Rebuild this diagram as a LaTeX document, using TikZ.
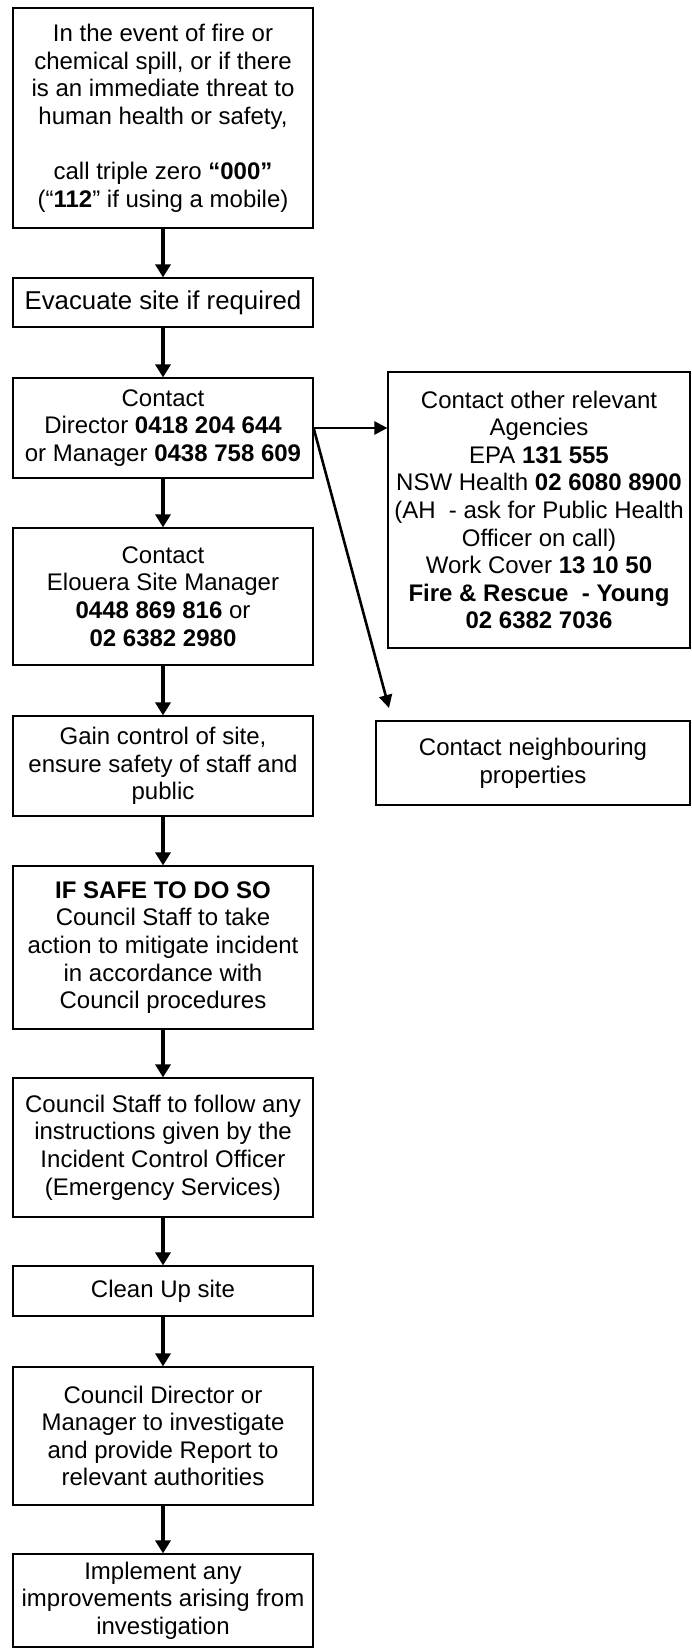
\documentclass[tikz,border=0pt]{standalone}
\usepackage{fontspec}
\setmainfont{Liberation Sans}
\usetikzlibrary{arrows.meta}
\tikzset{
  box/.style={draw=black,line width=0.6pt,align=center,inner sep=0pt,
    font=\fontsize{12}{13.8}\selectfont},
  down/.style={line width=2pt,-{Triangle[length=6.5pt,width=7.5pt]}},
  side/.style={line width=1.3pt,-{Triangle[length=6.5pt,width=6.5pt]}}
}
\begin{document}
\begin{tikzpicture}[x=0.5pt,y=-0.5pt]
\useasboundingbox (0,0) rectangle (691,1648);
\node[box,minimum width=150pt,minimum height=110pt](fire) at (163,118)
  {In the event of fire or\\chemical spill, or if there\\is an immediate threat to\\human health or safety,\\[13.8pt]
   call triple zero \textbf{“000”}\\(“\textbf{112}” if using a mobile)};
\node[box,minimum width=150pt,minimum height=24.5pt,font=\fontsize{12.9}{14.8}\selectfont](evac) at (163,302.5){Evacuate site if required};
\node[box,minimum width=150pt,minimum height=50pt](contact) at (163,428)
  {Contact\\Director \textbf{0418 204 644}\\or Manager \textbf{0438 758 609}};
\node[box,minimum width=150pt,minimum height=68.5pt](elouera) at (163,596.5)
  {Contact\\Elouera Site Manager\\\textbf{0448 869 816} or\\\textbf{02 6382 2980}};
\node[box,minimum width=150pt,minimum height=50pt](gain) at (163,766)
  {Gain control of site,\\ensure safety of staff and\\public};
\node[box,minimum width=150pt,minimum height=81.5pt](safe) at (163,947.5)
  {\textbf{IF SAFE TO DO SO}\\Council Staff to take\\action to mitigate incident\\in accordance with\\Council procedures};
\node[box,minimum width=150pt,minimum height=69.5pt](follow) at (163,1147.5)
  {Council Staff to follow any\\instructions given by the\\Incident Control Officer\\(Emergency Services)};
\node[box,minimum width=150pt,minimum height=25pt](clean) at (163,1291){Clean Up site};
\node[box,minimum width=150pt,minimum height=69pt](report) at (163,1436)
  {Council Director or\\Manager to investigate\\and provide Report to\\relevant authorities};
\node[box,minimum width=150pt,minimum height=46.5pt](improve) at (163,1600.5)
  {Implement any\\improvements arising from\\investigation};
\node[box,minimum width=151pt,minimum height=138pt](agencies) at (539,510)
  {Contact other relevant\\Agencies\\EPA \textbf{131 555}\\NSW Health \textbf{02 6080 8900}\\(AH\ \ - ask for Public Health\\Officer on call)\\
   Work Cover \textbf{13 10 50}\\\textbf{Fire \& Rescue\ \ - Young}\\\textbf{02 6382 7036}};
\node[box,minimum width=157pt,minimum height=42pt](neighbours) at (533,763)
  {Contact neighbouring\\properties};
\coordinate (neightip) at (389,708);
\draw[down](fire)--(evac);
\draw[down](evac)--(contact);
\draw[down](contact)--(elouera);
\draw[down](elouera)--(gain);
\draw[down](gain)--(safe);
\draw[down](safe)--(follow);
\draw[down](follow)--(clean);
\draw[down](clean)--(report);
\draw[down](report)--(improve);
\draw[side](contact.east)--(contact.east-|agencies.west);
\draw[side](contact.east)--(neightip);
\end{tikzpicture}
\end{document}
